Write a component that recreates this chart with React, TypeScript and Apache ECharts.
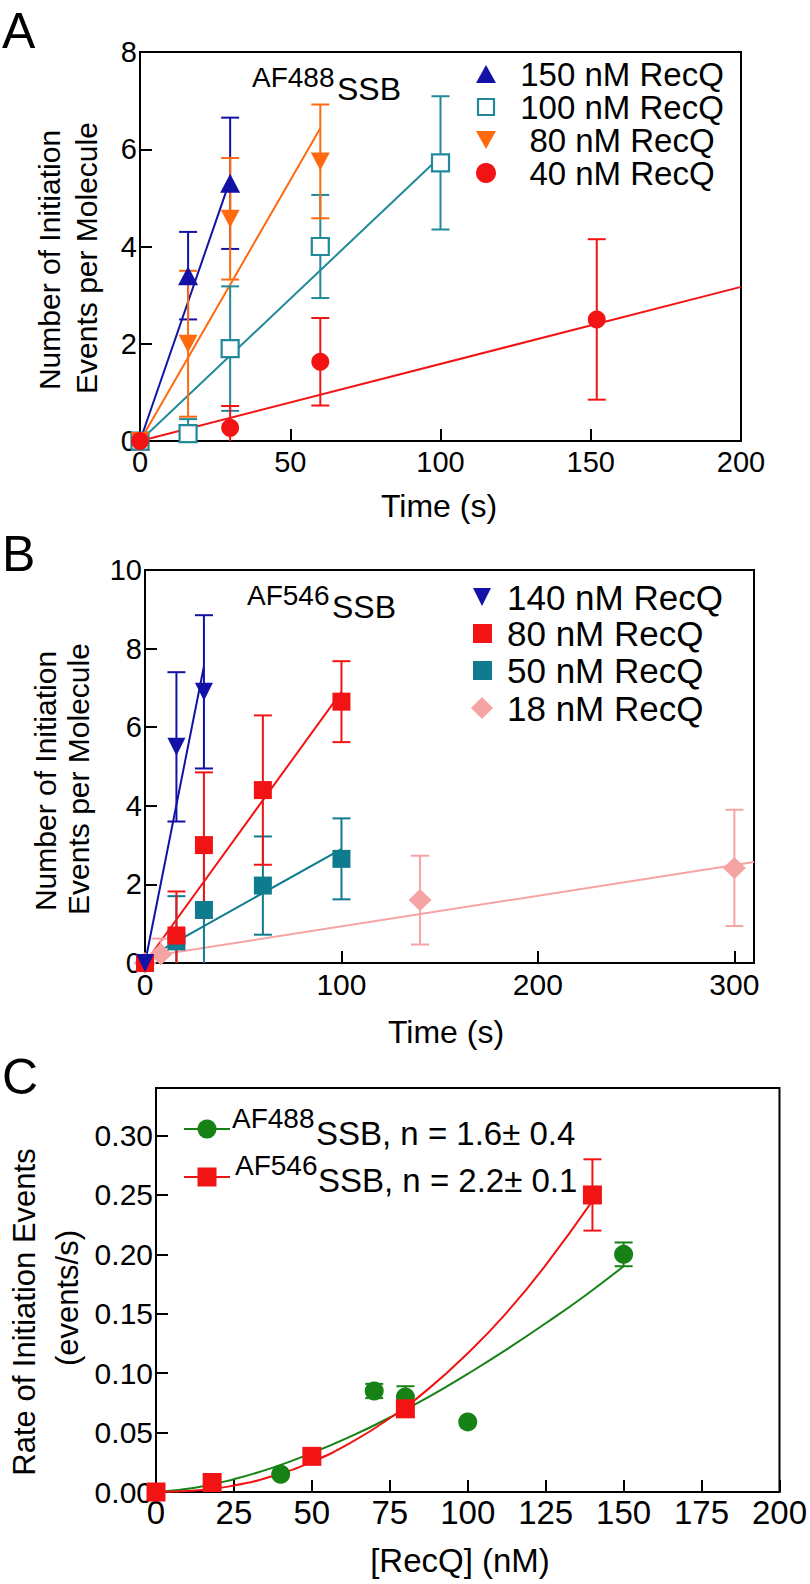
import React, { useEffect, useRef } from 'react';
import * as echarts from 'echarts';

const FONT = "'Liberation Sans', Arial, Helvetica, sans-serif";
const NARROW = "'Liberation Sans Narrow', 'Arial Narrow', 'Liberation Sans', Arial, sans-serif";

// ---------- Panel A (AF488 SSB) ----------
const aT150 = [0, 16, 30];
const aV150 = [0, 3.4, 5.3];
const aE150 = [0, 0.9, 1.35];
const aFit150 = [[0, 0], [30, 5.37]];

const aT100 = [0, 16, 30, 60, 100];
const aV100 = [0, 0.15, 1.9, 4.0, 5.72];
const aE100 = [0, 0.3, 1.28, 1.06, 1.37];
const aFit100 = [[0, 0], [100, 5.85]];

const aT80 = [0, 16, 30, 60];
const aV80 = [0, 2.0, 4.57, 5.75];
const aE80 = [0, 1.5, 1.25, 1.17];
const aFit80 = [[0, 0], [60, 6.43]];

const aT40 = [0, 30, 60, 152];
const aV40 = [0, 0.27, 1.63, 2.5];
const aE40 = [0, 0.45, 0.9, 1.65];
const aFit40 = [[0, 0], [200, 3.17]];

// ---------- Panel B (AF546 SSB) ----------
const bT140 = [0, 16, 30];
const bV140 = [0, 5.5, 6.9];
const bE140 = [0, 1.9, 1.95];
const bFit140 = [[0, 0], [30, 7.55]];

const bT80 = [0, 16, 30, 60, 100];
const bV80 = [0, 0.7, 3.0, 4.4, 6.65];
const bE80 = [0, 1.12, 1.85, 1.9, 1.03];
const bFit80 = [[0, 0], [100, 6.9]];

const bT50 = [0, 16, 30, 60, 100];
const bV50 = [0, 0.55, 1.35, 1.97, 2.65];
const bE50 = [0, 1.15, 1.6, 1.25, 1.03];
const bFit50 = [[0, 0.1], [100, 2.9]];

const bT18 = [0, 8, 140, 300];
const bV18 = [0, 0.22, 1.6, 2.42];
const bE18 = [0, 0.4, 1.13, 1.48];
const bFit18 = [[0, 0.15], [310, 2.57]];

// ---------- Panel C (rate vs [RecQ]) ----------
const cConc488 = [40, 70, 80, 100, 150];
const cRate488 = [0.015, 0.085, 0.08, 0.059, 0.2];
const cErr488 = [0, 0.006, 0.009, 0, 0.01];
const cCurve488 = [[0, 0], [12.5, 0.0036], [25, 0.0108], [37.5, 0.0205], [50, 0.0328], [62.5, 0.0468], [75, 0.0627], [87.5, 0.080], [100, 0.0994], [112.5, 0.120], [125, 0.142], [137.5, 0.165], [150, 0.19]];

const cConc546 = [0, 18, 50, 80, 140];
const cRate546 = [0, 0.008, 0.03, 0.07, 0.25];
const cErr546 = [0, 0, 0, 0, 0.03];
const cCurve546 = [[0, 0], [12.5, 0.0012], [25, 0.0055], [37.5, 0.0135], [50, 0.0254], [62.5, 0.0415], [75, 0.0621], [87.5, 0.087], [100, 0.1168], [112.5, 0.151], [125, 0.191], [140, 0.245]];

// colours
const BLUE = '#1212a6';
const TEAL_A = '#21899a';
const ORANGE = '#ff6a0e';
const RED = '#f21414';
const TEAL_B = '#0f7b8e';
const PINK = '#f5a3a3';
const GREEN = '#168216';

function fitLine(name: string, data: number[][], color: string, g: number, smooth = false) {
  return {
    name, type: 'line', xAxisIndex: g, yAxisIndex: g, data, smooth, symbol: 'none',
    lineStyle: { color, width: 2 }, z: 2, silent: true,
  };
}

function errBars(xs: number[], vs: number[], es: number[], color: string, g: number, half = 9) {
  const data = xs.map((x, i) => [x, vs[i], es[i]]).filter((d) => d[2] > 0);
  return {
    type: 'custom', xAxisIndex: g, yAxisIndex: g, data, z: 3, silent: true,
    renderItem: (params: any, api: any) => {
      const x = api.value(0);
      const v = api.value(1);
      const e = api.value(2);
      const lo = v - e;
      const top = api.coord([x, v + e]);
      const bot = api.coord([x, Math.max(lo, 0)]);
      const st = { stroke: color, lineWidth: 2 };
      const children: any[] = [
        { type: 'line', shape: { x1: top[0], y1: top[1], x2: bot[0], y2: bot[1] }, style: st },
        { type: 'line', shape: { x1: top[0] - half, y1: top[1], x2: top[0] + half, y2: top[1] }, style: st },
      ];
      if (lo >= 0) {
        children.push({ type: 'line', shape: { x1: bot[0] - half, y1: bot[1], x2: bot[0] + half, y2: bot[1] }, style: st });
      }
      return { type: 'group', children };
    },
  };
}

function points(name: string, xs: number[], vs: number[], g: number, symbol: string, size: any, color: string, opts: any = {}) {
  return {
    name, type: 'scatter', xAxisIndex: g, yAxisIndex: g,
    data: xs.map((x, i) => [x, vs[i]]),
    symbol, symbolSize: size, symbolRotate: opts.rotate || 0,
    itemStyle: opts.open
      ? { color: '#ffffff', borderColor: color, borderWidth: 2.2, opacity: 1 }
      : { color, opacity: 1 },
    z: 4, silent: true,
  };
}

function xAxisCfg(g: number, min: number, max: number, interval: number, extra: any = {}) {
  return {
    gridIndex: g, type: 'value', min, max, interval,
    axisLine: { show: true, onZero: false, lineStyle: { color: '#000', width: 2 } },
    axisTick: { show: true, inside: true, length: 12, lineStyle: { color: '#000', width: 2 } },
    splitLine: { show: false },
    axisLabel: { color: '#000', fontFamily: FONT, fontSize: 29, margin: 6, ...(extra.label || {}) },
    ...(extra.axis || {}),
  };
}

function yAxisCfg(g: number, min: number, max: number, interval: number, extra: any = {}) {
  return {
    gridIndex: g, type: 'value', min, max, interval,
    axisLine: { show: true, onZero: false, lineStyle: { color: '#000', width: 2 } },
    axisTick: { show: true, inside: true, length: 12, lineStyle: { color: '#000', width: 2 } },
    splitLine: { show: false },
    axisLabel: { color: '#000', fontFamily: FONT, fontSize: 29, margin: 3, ...(extra.label || {}) },
    ...(extra.axis || {}),
  };
}

function txt(text: string, x: number, y: number, size: number, opts: any = {}) {
  return {
    type: 'text', x, y, rotation: opts.rot || 0, z: 100, silent: true,
    style: {
      text, fontSize: size, fontFamily: opts.font || FONT, fill: '#000',
      align: opts.align || 'left', verticalAlign: 'middle',
    },
  };
}

export default function App() {
  const ref = useRef<HTMLDivElement>(null);

  useEffect(() => {
    if (!ref.current) return;
    const chart = echarts.init(ref.current, undefined, { renderer: 'svg' });
    const R90 = Math.PI / 2;

    const graphic: any[] = [
      // panel letters
      txt('A', 2, 31, 50),
      txt('B', 2, 554, 50),
      txt('C', 2, 1077, 50),

      // Panel A titles
      txt('Number of Initiation', 49, 260, 30, { rot: R90, align: 'center' }),
      txt('Events per Molecule', 86, 258, 30, { rot: R90, align: 'center' }),
      txt('Time (s)', 439, 506, 32, { align: 'center' }),
      txt('AF488', 252, 77, 28),
      txt('SSB', 337, 89, 32),

      // Panel A legend
      { type: 'polygon', x: 486, y: 74, shape: { points: [[-10, 9], [10, 9], [0, -9]] }, style: { fill: BLUE }, z: 100 },
      { type: 'rect', shape: { x: 478, y: 99, width: 16, height: 16 }, style: { fill: '#fff', stroke: TEAL_A, lineWidth: 2.2 }, z: 100 },
      { type: 'polygon', x: 486, y: 140, shape: { points: [[-10, -9], [10, -9], [0, 9]] }, style: { fill: ORANGE }, z: 100 },
      { type: 'circle', shape: { cx: 486, cy: 173, r: 10 }, style: { fill: RED }, z: 100 },
      txt('150 nM RecQ', 622, 74, 33, { align: 'center' }),
      txt('100 nM RecQ', 622, 107, 33, { align: 'center' }),
      txt('80 nM RecQ', 622, 140, 33, { align: 'center' }),
      txt('40 nM RecQ', 622, 173, 33, { align: 'center' }),

      // Panel B titles
      txt('Number of Initiation', 45, 781, 30, { rot: R90, align: 'center' }),
      txt('Events per Molecule', 78, 779, 30, { rot: R90, align: 'center' }),
      txt('Time (s)', 446, 1032, 32, { align: 'center' }),
      txt('AF546', 247, 595, 28),
      txt('SSB', 332, 607, 32),

      // Panel B legend
      { type: 'polygon', x: 482, y: 597, shape: { points: [[-9, -9], [9, -9], [0, 9]] }, style: { fill: BLUE }, z: 100 },
      { type: 'rect', shape: { x: 473, y: 624, width: 19, height: 19 }, style: { fill: RED }, z: 100 },
      { type: 'rect', shape: { x: 473, y: 661, width: 19, height: 19 }, style: { fill: TEAL_B }, z: 100 },
      { type: 'polygon', x: 482, y: 708, shape: { points: [[-11, 0], [0, -11], [11, 0], [0, 11]] }, style: { fill: PINK }, z: 100 },
      txt('140 nM RecQ', 507, 597, 35),
      txt('80 nM RecQ', 507, 633, 35),
      txt('50 nM RecQ', 507, 670, 35),
      txt('18 nM RecQ', 507, 708, 35),

      // Panel C titles
      txt('Rate of Initiation Events', 24, 1312, 31, { rot: R90, align: 'center' }),
      txt('(events/s)', 67, 1298, 31, { rot: R90, align: 'center' }),
      txt('[RecQ] (nM)', 460, 1560, 33, { align: 'center', font: NARROW }),

      // Panel C legend
      { type: 'line', shape: { x1: 184, y1: 1129, x2: 230, y2: 1129 }, style: { stroke: GREEN, lineWidth: 2 }, z: 100 },
      { type: 'circle', shape: { cx: 207, cy: 1129, r: 9.5 }, style: { fill: GREEN }, z: 101 },
      { type: 'line', shape: { x1: 184, y1: 1177, x2: 230, y2: 1177 }, style: { stroke: RED, lineWidth: 2 }, z: 100 },
      { type: 'rect', shape: { x: 197.5, y: 1167.5, width: 19, height: 19 }, style: { fill: RED }, z: 101 },
      txt('AF488', 232, 1118, 28),
      txt('SSB, n = 1.6\u00b1 0.4', 316, 1133, 33),
      txt('AF546', 235, 1165, 28),
      txt('SSB, n = 2.2\u00b1 0.1', 318, 1180, 33),
    ];

    const gridBase = { show: true, borderColor: '#000', borderWidth: 2, backgroundColor: 'transparent', containLabel: false };

    const option: any = {
      animation: false,
      backgroundColor: '#ffffff',
      textStyle: { fontFamily: FONT },
      grid: [
        { ...gridBase, left: 140, top: 52, width: 601, height: 389 },
        { ...gridBase, left: 145, top: 570, width: 609, height: 393 },
        { ...gridBase, left: 156, top: 1088, width: 626, height: 404 },
      ],
      xAxis: [
        xAxisCfg(0, 0, 200, 50),
        xAxisCfg(1, 0, 310, 100, { label: { showMaxLabel: false, fontSize: 30 } }),
        xAxisCfg(2, 0, 200, 25, { label: { fontSize: 33, margin: 4, fontFamily: NARROW } }),
      ],
      yAxis: [
        yAxisCfg(0, 0, 8, 2),
        yAxisCfg(1, 0, 10, 2),
        yAxisCfg(2, 0, 0.34, 0.05, {
          label: { showMaxLabel: false, fontSize: 30, formatter: (v: number) => v.toFixed(2) },
        }),
      ],
      graphic,
      series: [
        // Panel A
        fitLine('150 fit', aFit150, BLUE, 0),
        fitLine('100 fit', aFit100, TEAL_A, 0),
        fitLine('80 fit', aFit80, ORANGE, 0),
        fitLine('40 fit', aFit40, RED, 0),
        errBars(aT150, aV150, aE150, BLUE, 0),
        errBars(aT100, aV100, aE100, TEAL_A, 0),
        errBars(aT80, aV80, aE80, ORANGE, 0),
        errBars(aT40, aV40, aE40, RED, 0),
        points('150 nM RecQ', aT150, aV150, 0, 'triangle', [20, 19], BLUE),
        points('100 nM RecQ', aT100, aV100, 0, 'rect', 17, TEAL_A, { open: true }),
        points('80 nM RecQ', aT80, aV80, 0, 'triangle', [19, 18], ORANGE, { rotate: 180 }),
        points('40 nM RecQ', aT40, aV40, 0, 'circle', 18, RED),

        // Panel B
        fitLine('18 fit', bFit18, PINK, 1),
        fitLine('50 fit', bFit50, TEAL_B, 1),
        fitLine('80 fit B', bFit80, RED, 1),
        fitLine('140 fit', bFit140, BLUE, 1),
        errBars(bT18, bV18, bE18, PINK, 1),
        errBars(bT50, bV50, bE50, TEAL_B, 1),
        errBars(bT80, bV80, bE80, RED, 1),
        errBars(bT140, bV140, bE140, BLUE, 1),
        points('18 nM RecQ', bT18, bV18, 1, 'diamond', [23, 22], PINK),
        points('50 nM RecQ', bT50, bV50, 1, 'rect', 18, TEAL_B),
        points('80 nM RecQ B', bT80, bV80, 1, 'rect', 18, RED),
        points('140 nM RecQ', bT140, bV140, 1, 'triangle', [18, 18], BLUE, { rotate: 180 }),

        // Panel C
        fitLine('AF488 fit', cCurve488, GREEN, 2, true),
        fitLine('AF546 fit', cCurve546, RED, 2, true),
        errBars(cConc488, cRate488, cErr488, GREEN, 2),
        errBars(cConc546, cRate546, cErr546, RED, 2),
        points('AF488SSB', cConc488, cRate488, 2, 'circle', 19, GREEN),
        points('AF546SSB', cConc546, cRate546, 2, 'rect', 19, RED),
      ],
    };

    chart.setOption(option);
    return () => chart.dispose();
  }, []);

  return (
    <div
      ref={ref}
      style={{ position: 'absolute', left: 0, top: 0, width: 810, height: 1584, background: '#fff' }}
    />
  );
}
